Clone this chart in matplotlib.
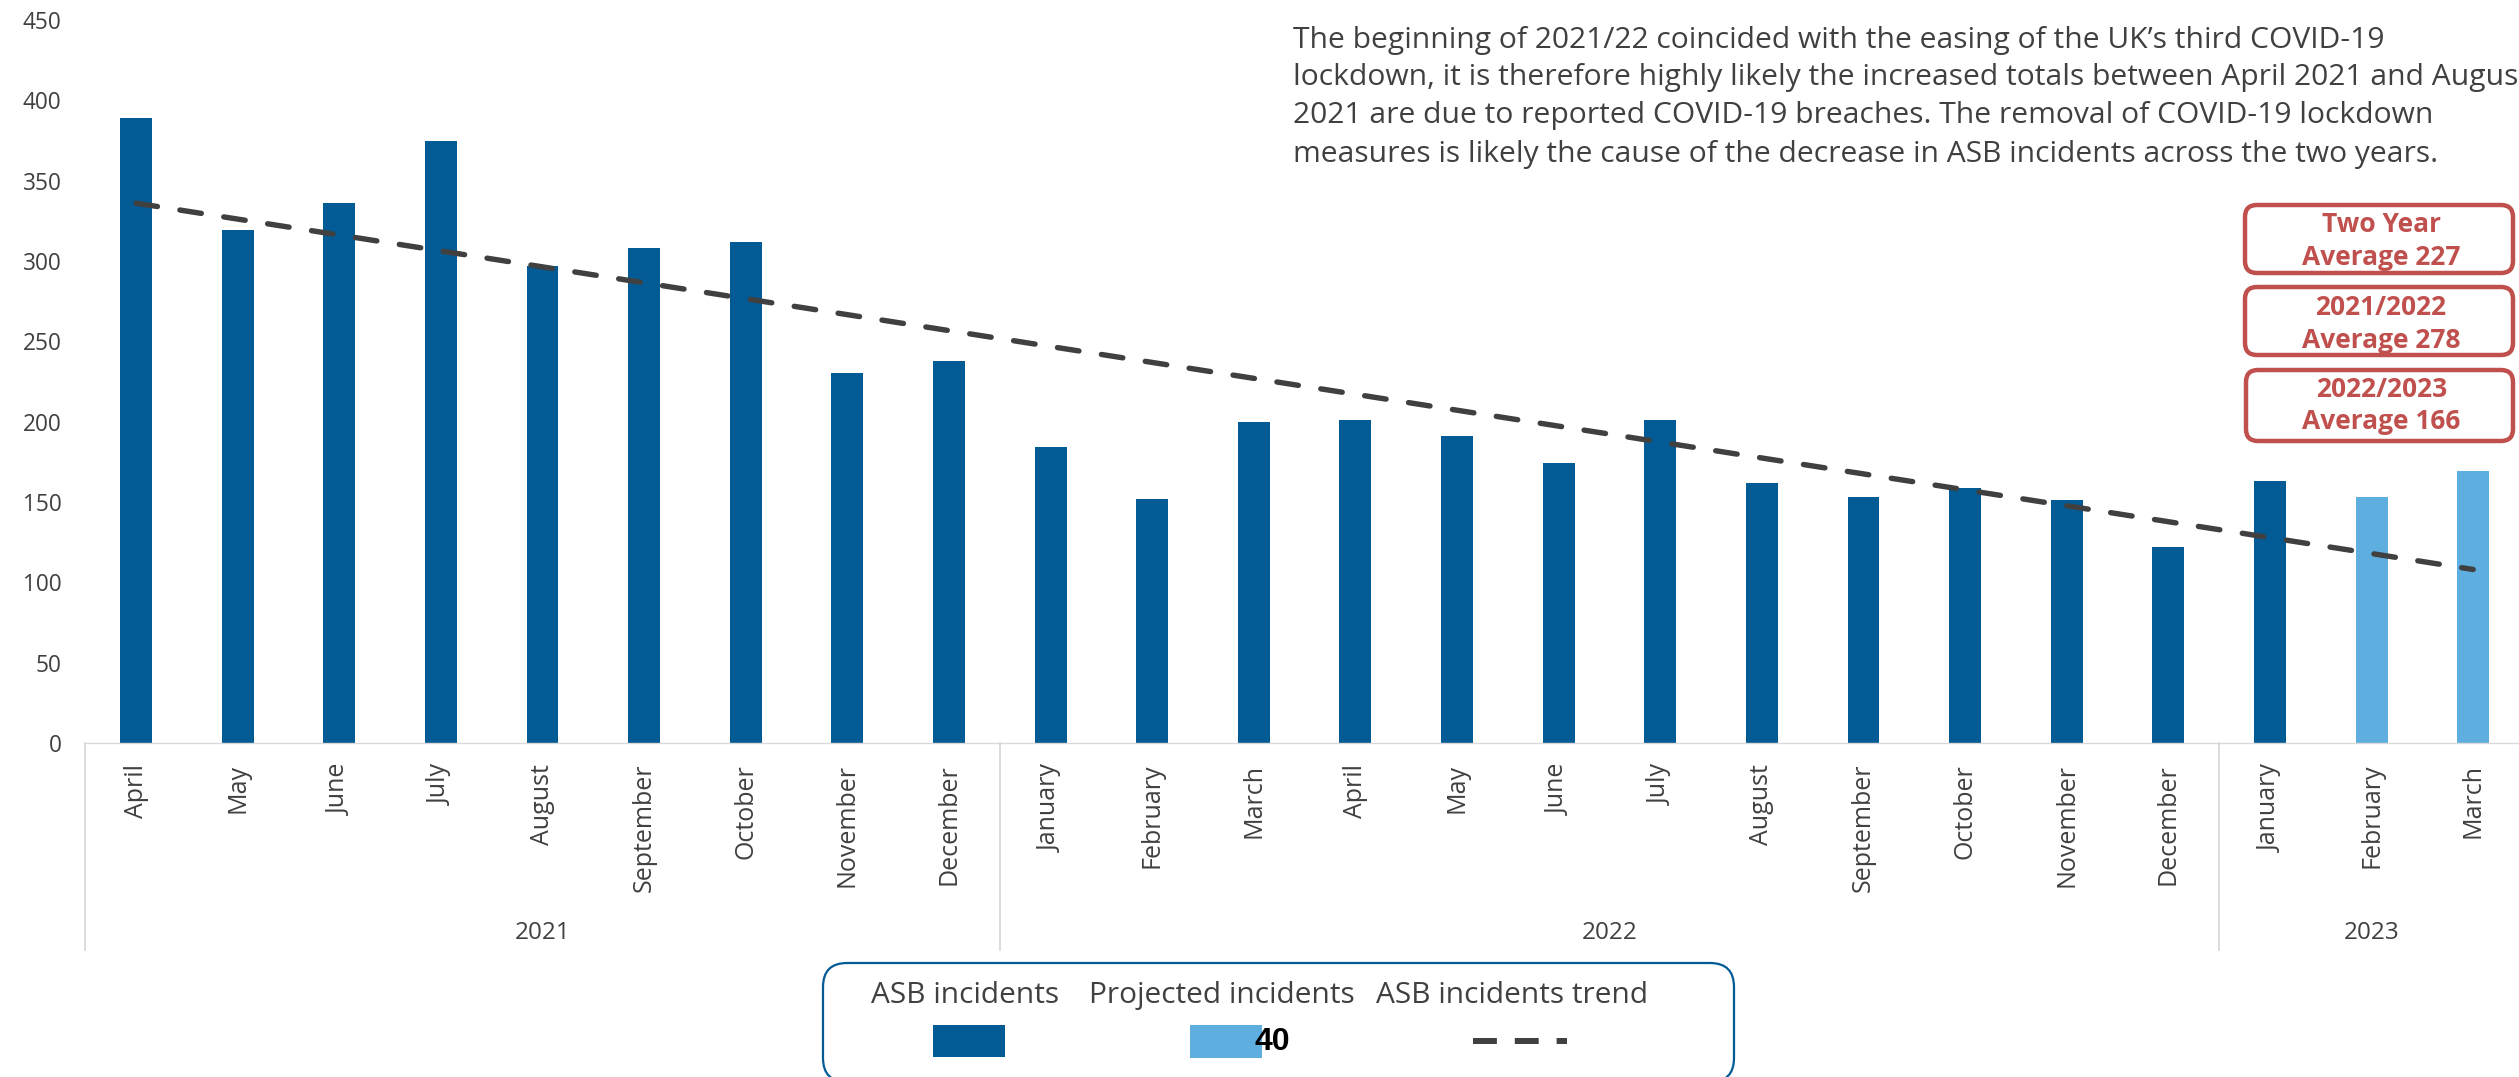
import numpy as np
import matplotlib
matplotlib.use("Agg")
import matplotlib.pyplot as plt
import matplotlib.transforms as mtransforms
from matplotlib.patches import FancyBboxPatch, Rectangle
from matplotlib.lines import Line2D

# ---------------- data ----------------
months = ["April", "May", "June", "July", "August", "September", "October",
          "November", "December", "January", "February", "March",
          "April", "May", "June", "July", "August", "September", "October",
          "November", "December", "January", "February", "March"]
asb_incidents = [389, 319, 336, 375, 297, 308, 312, 230, 238, 184, 152, 200,
                 201, 191, 174, 201, 162, 153, 159, 151, 122, 163]
projected_incidents = [153, 169]
trend_endpoints = [336, 108]          # ASB incidents trend (first & last month)
years = ["2021", "2022", "2023"]
months_per_year = [9, 12, 3]
yticks = [0, 50, 100, 150, 200, 250, 300, 350, 400, 450]
legend_labels = ["ASB incidents", "Projected incidents", "ASB incidents trend"]
box_texts = [("Two Year", "Average 227"),
             ("2021/2022", "Average 278"),
             ("2022/2023", "Average 166")]
note_lines = [
    "The beginning of 2021/22 coincided with the easing of the UK\u2019s third COVID-19",
    "lockdown, it is therefore highly likely the increased totals between April 2021 and August",
    "2021 are due to reported COVID-19 breaches. The removal of COVID-19 lockdown",
    "measures is likely the cause of the decrease in ASB incidents across the two years.",
]
stray_label = "40"

# ---------------- style ----------------
DARK = "#035B96"
LIGHT = "#5EAEDF"
TXT = "#404040"
GRID = "#D9D9D9"
RED = "#C0504D"
TREND = "#404040"

plt.rcParams["font.family"] = ["Open Sans", "DejaVu Sans"]

W, H = 2519, 1077
fig = plt.figure(figsize=(W / 100, H / 100), dpi=100)


def fx(x):
    return x / W


def fy(y):
    return 1 - y / H


ax_left, ax_right, ax_top, ax_bottom = 85.2, 2524.0, 20.0, 743.0
ax = fig.add_axes([fx(ax_left), fy(ax_bottom), (ax_right - ax_left) / W,
                   (ax_bottom - ax_top) / H])

n = len(months)
x = np.arange(n)
n_asb = len(asb_incidents)
ax.bar(x[:n_asb], asb_incidents, width=0.314, color=DARK, zorder=2)
ax.bar(x[n_asb:], projected_incidents, width=0.314, color=LIGHT, zorder=2)
ax.plot([x[0], x[-1]], trend_endpoints, color=TREND, lw=3.9,
        linestyle=(0, (4.0, 4.2)), dash_capstyle="round", zorder=3)

ax.set_xlim(-0.5, n - 0.5)
ax.set_ylim(0, 450)
ax.set_yticks(yticks)
for s in ["top", "left", "right"]:
    ax.spines[s].set_visible(False)
ax.spines["bottom"].set_color(GRID)
ax.spines["bottom"].set_linewidth(1.0)
ax.tick_params(axis="y", length=0, pad=17, labelsize=16.3, labelcolor=TXT)
ax.tick_params(axis="x", length=0, pad=15, labelsize=18, labelcolor=TXT)
ax.set_xticks(x)
ax.set_xticklabels(months, rotation=90)

# multi-level category axis: year dividers and labels
trans = mtransforms.blended_transform_factory(ax.transData, ax.transAxes)
axh = ax_bottom - ax_top
div_bottom = -(950 - ax_bottom) / axh
year_y = -(933 - ax_bottom) / axh
bounds = np.concatenate([[0], np.cumsum(months_per_year)]) - 0.5
for b in bounds:
    ax.add_line(Line2D([b, b], [0, div_bottom], transform=trans, color=GRID,
                       lw=1.3, clip_on=False))
for i, yr in enumerate(years):
    ax.text((bounds[i] + bounds[i + 1]) / 2, year_y, yr, transform=trans,
            ha="center", va="center", fontsize=17.5, color=TXT)

# ---------------- annotation text ----------------
for line, base in zip(note_lines, [47.7, 85.5, 123.5, 162.0]):
    fig.text(fx(1293), fy(base), line, ha="left", va="baseline",
             fontsize=21.6, color=TXT)

# ---------------- average boxes ----------------
box_geo = [(2243, 203, 2515, 275), (2243, 285, 2515, 357), (2244, 368, 2515, 443)]
baselines = [(231.7, 265), (315, 348), (397, 429)]
for (l1, l2), (x0, y0, x1, y1), (b1, b2) in zip(box_texts, box_geo, baselines):
    p = FancyBboxPatch((x0 + 2, H - y1 + 2), (x1 - x0 - 4), (y1 - y0 - 4),
                       boxstyle="round,pad=0,rounding_size=12",
                       transform=mtransforms.IdentityTransform(), facecolor="white",
                       edgecolor=RED, linewidth=3.2, zorder=5)
    fig.patches.append(p)
    cx = (x0 + x1) / 2 + 2
    fig.text(fx(cx), fy(b1), l1, ha="center", va="baseline", fontsize=19,
             fontweight="bold", color=RED, zorder=6)
    fig.text(fx(cx), fy(b2), l2, ha="center", va="baseline", fontsize=19,
             fontweight="bold", color=RED, zorder=6)

# ---------------- legend ----------------
leg = FancyBboxPatch((823, H - 1082), 1734 - 823, 1082 - 963,
                     boxstyle="round,pad=0,rounding_size=24",
                     transform=mtransforms.IdentityTransform(), facecolor="white",
                     edgecolor=DARK, linewidth=1.6, zorder=5)
fig.patches.append(leg)
label_cx = [965, 1222, 1512]
for lab, cx in zip(legend_labels, label_cx):
    fig.text(fx(cx), fy(1003), lab, ha="center", va="baseline", fontsize=21.5,
             color=TXT, zorder=6)
fig.patches.append(Rectangle((fx(933), fy(1057)), (1005 - 933) / W, 32 / H,
                             transform=fig.transFigure, facecolor=DARK,
                             edgecolor="none", zorder=6))
fig.patches.append(Rectangle((fx(1190), fy(1058)), (1262 - 1190) / W, 33 / H,
                             transform=fig.transFigure, facecolor=LIGHT,
                             edgecolor="none", zorder=6))
fig.lines.append(Line2D([fx(1473), fx(1567)], [fy(1041), fy(1041)],
                        transform=fig.transFigure, color=TREND, lw=4.3,
                        linestyle=(0, (4.0, 3.0)), solid_capstyle="butt",
                        dash_capstyle="butt", zorder=6))
fig.text(fx(1272), fy(1042), stray_label, ha="center", va="center",
         fontsize=23, fontweight="bold", color="black",
         family=["Liberation Sans Narrow", "Liberation Sans", "DejaVu Sans"],
         zorder=7)

fig.savefig("out.png", dpi=100)
